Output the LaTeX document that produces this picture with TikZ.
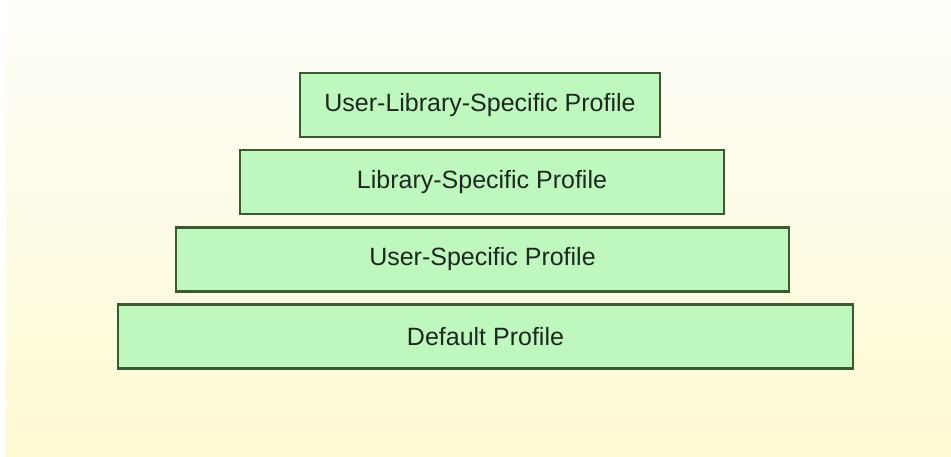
\documentclass[tikz,border=0pt]{standalone}
\usepackage{fontspec}
\setmainfont{Liberation Sans}
\definecolor{bgtop}{HTML}{FEFEFA}
\definecolor{bgbot}{HTML}{FFFAD2}
\definecolor{boxfill}{HTML}{BEF8BE}
\definecolor{boxline}{HTML}{3C5A32}
\definecolor{txt}{HTML}{1E281E}
\tikzset{
  layerbox/.style={draw=boxline, line width=2.6pt, fill=boxfill, text=txt,
    inner sep=0pt, minimum height=64pt, font=\fontsize{25}{30}\selectfont}
}
\begin{document}
\begin{tikzpicture}[x=1pt,y=1pt]
\useasboundingbox (0,0) rectangle (951,457);
\fill[white] (0,0) rectangle (951,457);
\shade[top color=bgtop, bottom color=bgbot] (6,0) rectangle (951,457);
\node[layerbox, minimum width=360pt] (ul) at (480,352) {User-Library-Specific Profile};
\node[layerbox, minimum width=484pt] (lib) at (482,275) {Library-Specific Profile};
\node[layerbox, minimum width=613pt] (us) at (482.5,197.5) {User-Specific Profile};
\node[layerbox, minimum width=735pt] (def) at (485.5,120.5) {Default Profile};
\end{tikzpicture}
\end{document}
